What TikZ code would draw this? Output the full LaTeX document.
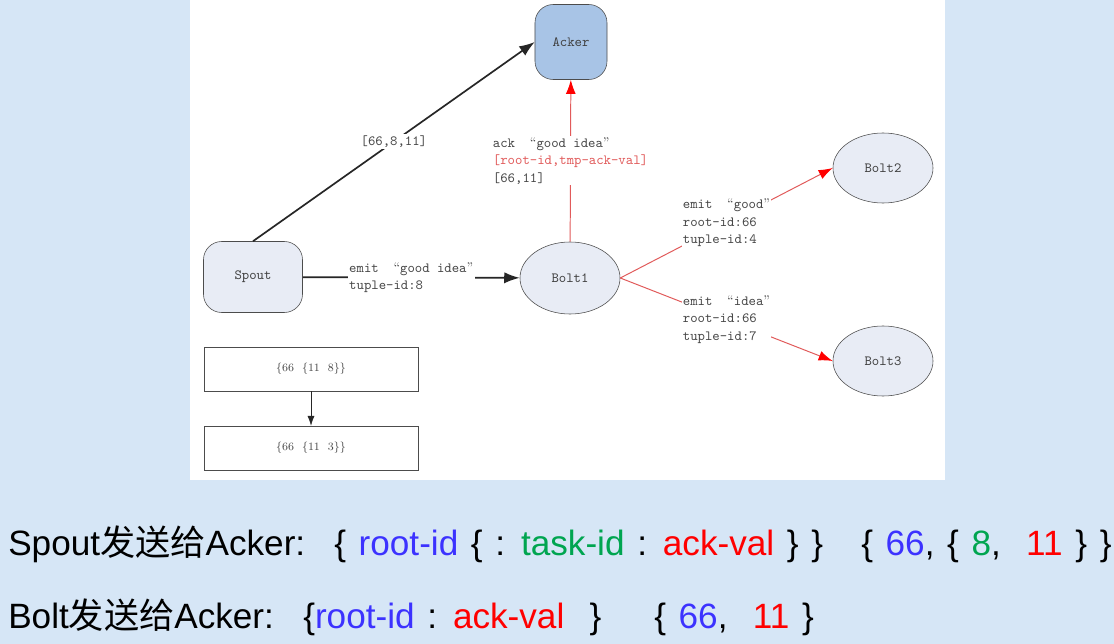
\documentclass[tikz,border=0pt]{standalone}
\usepackage{fontspec}
\usetikzlibrary{shapes,arrows.meta,backgrounds}
\newfontfamily\sansfnt{Liberation Sans}
\newfontfamily\cjk{Noto Sans CJK SC}
\newcommand\widesp{\spaceskip 9pt\relax}
\newcommand\lquo{{\rmfamily“}}
\newcommand\rquo{{\rmfamily”}}
\definecolor{bgblue}{RGB}{214,230,246}
\definecolor{ackerblue}{RGB}{168,196,230}
\definecolor{nodegray}{RGB}{232,236,245}
\definecolor{txtgray}{RGB}{70,70,70}
\definecolor{lnred}{RGB}{225,90,90}
\definecolor{rootblue}{RGB}{60,50,255}
\definecolor{taskgreen}{RGB}{0,165,80}
\definecolor{ackred}{RGB}{255,0,0}
\begin{document}
\begin{tikzpicture}[x=0.025cm, y=-0.025cm]
\tikzstyle{acker}=[rectangle, rounded corners=13pt, draw=black!70, fill=ackerblue,
                   minimum width=1.8cm, minimum height=1.875cm, font=\ttfamily\fontsize{10}{12}\selectfont, text=black!75]
\tikzstyle{spout}=[acker, fill=nodegray, minimum width=2.475cm, minimum height=1.775cm]
\tikzstyle{bolt}=[ellipse, draw=black!70, fill=nodegray, minimum width=2.5cm,
                  minimum height=1.8cm, font=\ttfamily\fontsize{10}{12}\selectfont, text=black!75]
\tikzstyle{box}=[rectangle, draw=black!70, minimum width=5.35cm, minimum height=1.1cm,
                 font=\fontsize{8}{10}\selectfont, text=txtgray]
\tikzstyle{lbl}=[midway, inner sep=1pt, fill=white, align=left, text=txtgray,
                 font=\ttfamily\fontsize{10}{12.4}\selectfont]
\tikzstyle{blk}=[black!85, line width=1.2pt, -{Latex[length=11pt,width=8pt]}]
\tikzstyle{rd}=[lnred, line width=.7pt, -{Latex[length=10pt,width=7pt,fill=red,color=red]}]
\tikzstyle{say}=[anchor=base west, inner sep=0pt,
                 font=\sansfnt\fontsize{25}{30}\selectfont\widesp]
% background and white panel
\fill[bgblue] (0,0) rectangle (1114,644);
\fill[white] (190,0) rectangle (945,480);
\useasboundingbox (0,0) rectangle (1114,644);
% nodes
\node[acker] (Acker) at (571,42) {Acker};
\node[spout] (Spout) at (253,277) {Spout};
\node[bolt] (Bolt1) at (570,278) {Bolt1};
\node[bolt, minimum height=1.75cm] (Bolt2) at (883,168) {Bolt2};
\node[bolt, minimum height=1.75cm] (Bolt3) at (883,361) {Bolt3};
\node[box] (T1) at (311,369) {\{66\ \ \{11\ \ 8\}\}};
\node[box] (T2) at (311,448) {\{66\ \ \{11\ \ 3\}\}};
% edges
\draw[blk] (Spout.north) -- node[lbl]{[66,8,11]} (Acker.west);
\draw[blk] (Spout) -- node[lbl]{emit\ \ \lquo good idea\rquo\\tuple-id:8} (Bolt1);
\draw[rd] (Bolt1) -- node[lbl]{ack\ \ \lquo good idea\rquo\\\textcolor{lnred}{[root-id,tmp-ack-val]}\\{}[66,11]} (Acker);
\draw[rd] (Bolt1.east) -- node[lbl]{emit\ \ \lquo good\rquo\\root-id:66\\tuple-id:4} (Bolt2.west);
\draw[rd] (Bolt1.east) -- node[lbl]{emit\ \ \lquo idea\rquo\\root-id:66\\tuple-id:7} (Bolt3.west);
\draw[black!85, -{Latex[length=7pt,width=5pt]}] (T1) -- (T2);
% text below
\node[say] (SpoutMsg) at (8,555) {Spout{\cjk 发送给}Acker:};
\node[say] (SpoutKey) at (334,555) {\{ \textcolor{rootblue}{root-id} \{ : \textcolor{taskgreen}{task-id} : \textcolor{ackred}{ack-val} \} \}};
\node[say] (SpoutVal) at (861,555) {\{ \textcolor{rootblue}{66},\ \{ \textcolor{taskgreen}{8},\ \ \textcolor{ackred}{11} \} \}};
\node[say] (BoltMsg) at (8,628) {Bolt{\cjk 发送给}Acker:};
\node[say] (BoltKey) at (303,628) {\{\textcolor{rootblue}{root-id} : \textcolor{ackred}{ack-val}\ \ \}};
\node[say] (BoltVal) at (654,628) {\{ \textcolor{rootblue}{66},\ \ \textcolor{ackred}{11} \}};
\end{tikzpicture}
\end{document}
